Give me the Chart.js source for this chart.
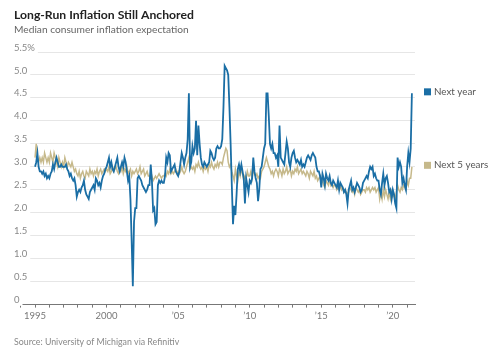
<!DOCTYPE html>
<html>
<head>
<meta charset="utf-8">
<script src="https://cdn.jsdelivr.net/npm/chart.js@4/dist/chart.umd.min.js"></script>
<style>
  html, body { margin: 0; padding: 0; background: #fff; }
  #wrap { width: 499px; height: 353px; position: relative; }
</style>
</head>
<body>
<div id="wrap"><canvas id="inflationChart"></canvas></div>
<script>
// Monthly survey values, Jan 1995 to May 2021
const startYear = 1995;

const nextYear = [
    3.0, 3.1, 3.3, 3.0, 2.9, 2.9, 2.85, 2.9, 2.8, 2.85, 2.75, 2.8,      // 1995
    2.75, 2.85, 2.9, 3.05, 2.95, 3.1, 3.2, 3.1, 3.0, 3.0, 3.05, 3.0,    // 1996
    3.0, 3.0, 3.05, 2.95, 2.9, 2.8, 2.85, 2.75, 2.7, 2.75, 2.6, 2.35,   // 1997
    2.45, 2.5, 2.45, 2.55, 2.6, 2.7, 2.5, 2.4, 2.35, 2.3, 2.45, 2.5,    // 1998
    2.55, 2.6, 2.5, 2.75, 2.7, 2.6, 2.65, 2.55, 2.7, 2.8, 2.85, 2.95,   // 1999
    3.0, 3.1, 3.2, 3.0, 3.1, 2.95, 2.9, 3.0, 3.1, 3.2, 3.0, 2.9,        // 2000
    3.0, 3.1, 3.0, 3.2, 3.1, 2.9, 2.7, 2.8, 2.3, 1.4, 0.4, 1.8,         // 2001
    2.1, 2.1, 2.75, 2.8, 2.75, 2.7, 2.6, 2.55, 2.5, 2.45, 2.5, 2.6,     // 2002
    2.6, 3.05, 2.7, 2.05, 2.1, 1.75, 1.8, 2.6, 2.7, 2.65, 2.7, 2.65,    // 2003
    2.65, 2.8, 3.2, 3.1, 3.3, 3.25, 2.9, 2.95, 3.0, 3.05, 2.9, 2.85,    // 2004
    2.8, 2.9, 3.1, 3.3, 3.2, 3.05, 3.2, 3.3, 3.6, 4.6, 3.0, 3.1,        // 2005
    3.45, 3.3, 3.4, 4.0, 3.25, 3.9, 3.5, 3.2, 3.05, 3.0, 3.1, 3.05,     // 2006
    3.0, 3.05, 3.1, 3.35, 3.3, 3.2, 3.15, 3.2, 3.4, 3.45, 3.4, 3.4,     // 2007
    3.45, 3.6, 4.3, 5.2, 5.15, 5.1, 5.0, 4.3, 3.5, 2.6, 1.75, 2.15,     // 2008
    1.95, 2.4, 2.95, 3.05, 2.9, 3.05, 2.9, 2.75, 2.2, 2.75, 2.6, 2.45,  // 2009
    2.7, 2.65, 2.75, 3.2, 2.9, 2.75, 2.65, 2.25, 2.5, 2.95, 3.0, 3.2,   // 2010
    3.4, 3.5, 4.6, 4.6, 4.1, 3.5, 3.4, 3.5, 3.3, 3.3, 3.2, 3.25,        // 2011
    3.0, 3.9, 3.2, 3.15, 3.1, 3.05, 3.3, 3.55, 3.4, 3.1, 3.0, 3.2,      // 2012
    3.3, 3.35, 3.2, 3.1, 3.15, 3.1, 3.05, 3.15, 3.0, 3.05, 3.0, 3.1,    // 2013
    3.2, 3.25, 3.2, 3.15, 3.25, 3.3, 3.25, 3.2, 3.0, 2.9, 2.9, 2.8,     // 2014
    2.55, 2.85, 2.75, 2.6, 2.85, 2.75, 2.7, 2.8, 2.65, 2.6, 2.7, 2.65,  // 2015
    2.6, 2.55, 2.7, 2.5, 2.65, 2.6, 2.55, 2.45, 2.5, 2.4, 2.2, 2.5,     // 2016
    2.6, 2.7, 2.5, 2.55, 2.45, 2.55, 2.65, 2.6, 2.55, 2.45, 2.5, 2.65,  // 2017
    2.7, 2.75, 2.8, 2.75, 2.9, 3.0, 2.95, 3.0, 2.8, 2.85, 2.75, 2.7,    // 2018
    2.7, 2.5, 2.4, 2.65, 2.85, 2.6, 2.75, 2.8, 2.65, 2.45, 2.5, 2.3,    // 2019
    2.5, 2.4, 2.2, 2.1, 3.2, 3.0, 3.1, 3.0, 2.65, 2.75, 2.6, 2.5,       // 2020
    3.0, 3.3, 3.1, 3.4, 4.6                                             // 2021
];

const next5Years = [
    3.2, 3.5, 3.2, 3.1, 3.2, 3.1, 3.2, 3.1, 3.3, 3.2, 3.1, 3.2,         // 1995
    3.1, 3.3, 3.2, 3.1, 3.3, 3.2, 3.1, 3.0, 3.2, 3.1, 3.0, 3.1,         // 1996
    3.0, 3.2, 3.1, 3.0, 3.1, 3.05, 3.0, 3.1, 3.0, 2.9, 2.95, 2.85,      // 1997
    2.8, 2.9, 2.75, 2.85, 2.9, 2.8, 2.75, 2.9, 2.85, 2.8, 2.95, 2.85,   // 1998
    2.9, 2.8, 2.9, 2.85, 2.95, 2.8, 2.9, 2.95, 2.85, 2.9, 2.95, 2.9,    // 1999
    2.95, 2.9, 3.0, 2.85, 2.9, 3.0, 2.9, 2.95, 3.0, 2.9, 2.85, 2.95,    // 2000
    2.9, 3.0, 2.85, 2.95, 2.9, 3.0, 2.85, 2.9, 2.95, 2.8, 2.9, 2.85,    // 2001
    2.9, 2.95, 2.85, 2.9, 3.0, 2.85, 2.9, 2.95, 2.8, 2.85, 2.9, 2.8,    // 2002
    2.8, 2.75, 2.8, 2.7, 2.75, 2.8, 2.75, 2.8, 2.85, 2.8, 2.75, 2.8,    // 2003
    2.8, 2.85, 2.8, 2.9, 2.85, 2.95, 2.85, 2.9, 2.85, 2.9, 2.95, 2.85,  // 2004
    2.9, 2.85, 2.9, 3.0, 2.9, 2.85, 2.9, 3.0, 3.1, 3.2, 2.95, 3.0,      // 2005
    2.95, 3.0, 2.9, 3.05, 3.0, 3.1, 3.0, 2.95, 3.0, 2.9, 3.0, 2.95,     // 2006
    3.0, 2.9, 3.05, 3.0, 3.1, 3.0, 2.95, 3.05, 3.0, 3.1, 3.0, 3.1,      // 2007
    3.1, 3.05, 3.2, 3.3, 3.4, 3.35, 3.1, 3.0, 3.05, 2.9, 2.8, 2.7,      // 2008
    2.95, 2.8, 2.7, 2.9, 2.8, 2.95, 2.85, 2.7, 2.8, 2.75, 2.9, 2.8,     // 2009
    2.8, 2.9, 2.75, 2.95, 2.85, 2.8, 2.85, 2.75, 2.8, 2.75, 2.9, 2.95,  // 2010
    3.0, 3.1, 3.2, 3.1, 3.0, 2.95, 2.85, 2.9, 2.8, 2.9, 2.95, 2.9,      // 2011
    2.8, 2.95, 2.9, 2.8, 2.95, 2.85, 2.9, 3.0, 2.85, 2.9, 2.95, 2.8,    // 2012
    2.9, 2.85, 2.95, 2.9, 3.0, 2.85, 2.9, 2.95, 2.85, 2.9, 2.85, 2.8,   // 2013
    2.9, 2.85, 2.75, 2.9, 2.85, 2.8, 2.9, 2.75, 2.8, 2.7, 2.75, 2.8,    // 2014
    2.65, 2.7, 2.6, 2.55, 2.7, 2.65, 2.6, 2.75, 2.6, 2.65, 2.55, 2.6,   // 2015
    2.6, 2.5, 2.55, 2.5, 2.6, 2.5, 2.55, 2.45, 2.5, 2.45, 2.4, 2.45,    // 2016
    2.55, 2.5, 2.45, 2.5, 2.4, 2.55, 2.5, 2.45, 2.5, 2.4, 2.45, 2.5,    // 2017
    2.5, 2.45, 2.55, 2.5, 2.55, 2.45, 2.5, 2.55, 2.5, 2.55, 2.45, 2.5,  // 2018
    2.55, 2.3, 2.45, 2.3, 2.5, 2.35, 2.5, 2.4, 2.3, 2.45, 2.3, 2.45,    // 2019
    2.35, 2.4, 2.3, 2.45, 2.6, 2.5, 2.45, 2.55, 2.5, 2.6, 2.55, 2.5,    // 2020
    2.7, 2.6, 2.75, 2.75, 3.0                                           // 2021
];

const seriesNames = ['Next year', 'Next 5 years'];
const seriesColors = ['#1a6ea5', '#c6b98b'];
const yTickValues = [0, 0.5, 1, 1.5, 2, 2.5, 3, 3.5, 4, 4.5, 5, 5.5];
const xTickYears = [1994, 1995, 1996, 1997, 1998, 1999, 2000, 2001, 2002, 2003, 2004,
    2005, 2006, 2007, 2008, 2009, 2010, 2011, 2012, 2013, 2014, 2015, 2016, 2017,
    2018, 2019, 2020, 2021];
const labelYears = [1995, 2000, 2005, 2010, 2015, 2020];

const fontFamily = 'Lato, "Open Sans", sans-serif';

function toPoints(values) {
    return values.map((v, i) => ({ x: startYear + i / 12, y: v }));
}

function yearLabel(year) {
    if (year < 2005) return String(year);
    return '\u2019' + String(year).slice(2);
}

// Title, subtitle, source and end-of-line legend
const textPlugin = {
    id: 'textPlugin',
    afterDraw(chart) {
        const ctx = chart.ctx;
        const yScale = chart.scales.y;
        ctx.save();
        ctx.textBaseline = 'alphabetic';
        ctx.textAlign = 'left';

        ctx.fillStyle = '#222';
        ctx.font = 'bold 12.2px ' + fontFamily;
        ctx.fillText('Long-Run Inflation Still Anchored', 14, 19);

        ctx.fillStyle = '#666';
        ctx.font = '10.2px ' + fontFamily;
        ctx.fillText('Median consumer inflation expectation', 14, 33);

        ctx.fillStyle = '#888';
        ctx.font = '8.8px ' + fontFamily;
        ctx.fillText('Source: University of Michigan via Refinitiv', 14, 345);

        // legend next to the last value of each series
        ctx.textBaseline = 'middle';
        ctx.font = '9.8px ' + fontFamily;
        chart.data.datasets.forEach((ds, i) => {
            const last = ds.data[ds.data.length - 1].y;
            const y = yScale.getPixelForValue(last) - 1.5;
            ctx.fillStyle = seriesColors[i];
            ctx.fillRect(424, y - 3.5, 7, 7);
            ctx.fillStyle = '#555';
            ctx.fillText(seriesNames[i], 434, y);
        });
        ctx.restore();
    }
};

document.addEventListener('DOMContentLoaded', function() {
    const ctx = document.getElementById('inflationChart').getContext('2d');

    new Chart(ctx, {
        type: 'line',
        data: {
            datasets: [
                {
                    label: seriesNames[0],
                    data: toPoints(nextYear),
                    borderColor: seriesColors[0],
                    borderWidth: 1.8,
                    pointRadius: 0,
                    tension: 0
                },
                {
                    label: seriesNames[1],
                    data: toPoints(next5Years),
                    borderColor: seriesColors[1],
                    borderWidth: 1.5,
                    pointRadius: 0,
                    tension: 0
                }
            ]
        },
        options: {
            responsive: true,
            maintainAspectRatio: false,
            animation: false,
            layout: {
                padding: { left: 14, right: 84, top: 52, bottom: 28 }
            },
            scales: {
                x: {
                    type: 'linear',
                    min: 1993.53,
                    max: 2021.55,
                    afterBuildTicks: function(scale) {
                        scale.ticks = xTickYears.map(v => ({ value: v }));
                    },
                    grid: {
                        drawOnChartArea: false,
                        drawTicks: true,
                        tickLength: 3,
                        color: '#777'
                    },
                    border: { display: true, color: '#777', width: 1 },
                    ticks: {
                        autoSkip: false,
                        maxRotation: 0,
                        padding: 3,
                        color: '#777',
                        font: { family: fontFamily, size: 9.5 },
                        callback: function(value) {
                            return labelYears.includes(value) ? yearLabel(value) : '';
                        }
                    }
                },
                y: {
                    min: 0,
                    max: 5.5,
                    afterBuildTicks: function(scale) {
                        scale.ticks = yTickValues.map(v => ({ value: v }));
                    },
                    grid: {
                        drawTicks: false,
                        color: '#e6e6e6',
                        lineWidth: 1
                    },
                    border: { display: false },
                    ticks: {
                        mirror: true,
                        padding: 0,
                        labelOffset: -4.5,
                        color: '#888',
                        font: { family: fontFamily, size: 9.5 },
                        showLabelBackdrop: true,
                        backdropColor: '#fff',
                        backdropPadding: { left: 0, right: 3, top: 0, bottom: 0 },
                        callback: function(value) {
                            if (value === 5.5) return '5.5%';
                            if (value === 0) return '0';
                            return value.toFixed(1);
                        }
                    }
                }
            },
            plugins: {
                legend: { display: false },
                tooltip: { enabled: false }
            }
        },
        plugins: [textPlugin]
    });
});
</script>
</body>
</html>
